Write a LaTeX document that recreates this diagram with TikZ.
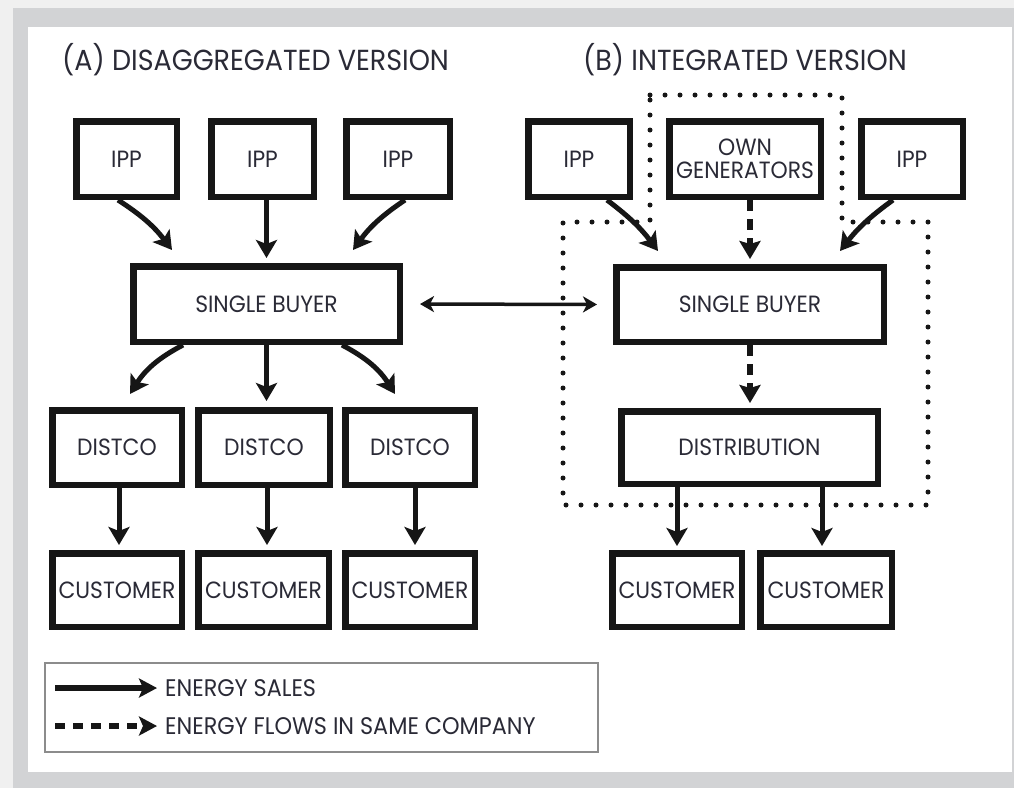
\documentclass[tikz,border=0pt]{standalone}
\usepackage{fontspec}
\setmainfont{Poppins}[FakeStretch=0.93]
\usetikzlibrary{arrows.meta,calc}
\definecolor{txt}{HTML}{2A2A36}
\definecolor{ink}{HTML}{161616}
\definecolor{frame}{HTML}{D2D3D5}
\definecolor{outerbg}{HTML}{F0F0F0}
\definecolor{leggray}{HTML}{8C8C8C}
\begin{document}
\begin{tikzpicture}[x=1pt,y=-1pt,
  box/.style={draw=ink, line width=6.5pt, fill=white, inner sep=0pt, align=center, text=txt, font=\fontsize{23.5}{23}\selectfont},
  ttl/.style={text=txt, font=\fontsize{29}{30}\selectfont, anchor=west, inner sep=0pt},
  legtext/.style={text=txt, font=\fontsize{24}{23}\selectfont, anchor=west, inner sep=0pt},
  sale/.style={draw=ink, line width=5pt, -{Stealth[length=18pt,width=21pt,inset=4pt]}},
  flow/.style={draw=ink, line width=6pt, dash pattern=on 11pt off 8pt, -{Stealth[length=18pt,width=21pt,inset=3pt]}},
  dbl/.style={draw=ink, line width=3.5pt, {Stealth[length=14pt,width=16pt,inset=4pt]}-{Stealth[length=14pt,width=16pt,inset=4pt]}},
  dots/.style={draw=ink, line width=5pt, line cap=round, dash pattern=on 0pt off 15pt},
]
% background
\fill[outerbg] (0,0) rectangle (1014,788);
\fill[frame] (13,8) rectangle (1014,788);
\fill[white] (28,27) rectangle (1012,772);
\useasboundingbox (0,0) rectangle (1014,788);

% titles
\node[ttl] (ta) at (62,60) {(A) DISAGGREGATED VERSION};
\node[ttl] (tb) at (583,60) {(B) INTEGRATED VERSION};

% dotted company boundary
\draw[dots] (650,95) -- (842,95) -- (842,222) -- (928,222) -- (928,505) -- (563,505) -- (563,222) -- (650,222) -- cycle;

% (A) nodes
\node[box, minimum width=100.5pt, minimum height=75.5pt] (IPPa1) at (126.5,159) {IPP};
\node[box, minimum width=102.5pt, minimum height=75.5pt] (IPPa2) at (262.5,159) {IPP};
\node[box, minimum width=103.5pt, minimum height=75.5pt] (IPPa3) at (398,159) {IPP};
\node[box, minimum width=266.5pt, minimum height=75.5pt] (SBa) at (266.5,304) {SINGLE BUYER};
\node[box, minimum width=129.5pt, minimum height=74.5pt] (DC1) at (117,447.5) {DISTCO};
\node[box, minimum width=131.5pt, minimum height=74.5pt] (DC2) at (264,447.5) {DISTCO};
\node[box, minimum width=129.5pt, minimum height=74.5pt] (DC3) at (410,447.5) {DISTCO};
\node[box, minimum width=129.5pt, minimum height=73.5pt] (C1) at (117,590) {CUSTOMER};
\node[box, minimum width=130.5pt, minimum height=73.5pt] (C2) at (263.5,590) {CUSTOMER};
\node[box, minimum width=129.5pt, minimum height=73.5pt] (C3) at (410,590) {CUSTOMER};

% (B) nodes
\node[box, minimum width=101.5pt, minimum height=75.5pt] (IPPb1) at (579,159) {IPP};
\node[box, minimum width=151.5pt, minimum height=75.5pt] (OWN) at (745,159) {OWN\\GENERATORS};
\node[box, minimum width=101.5pt, minimum height=75.5pt] (IPPb2) at (912,159) {IPP};
\node[box, minimum width=267.5pt, minimum height=74.5pt] (SBb) at (750,304.5) {SINGLE BUYER};
\node[box, minimum width=256.5pt, minimum height=72.5pt] (DIST) at (749.5,447.5) {DISTRIBUTION};
\node[box, minimum width=129.5pt, minimum height=73.5pt] (CB1) at (677,590) {CUSTOMER};
\node[box, minimum width=131.5pt, minimum height=73.5pt] (CB2) at (826,590) {CUSTOMER};

% (A) connectors
\draw[sale] ([xshift=-8.5pt]IPPa1.south) to[bend left=10] ([xshift=-94.5pt,yshift=13pt]SBa.north);
\draw[sale] (SBa.north |- IPPa2.south) -- ([yshift=5pt]SBa.north);
\draw[sale] ([xshift=7pt]IPPa3.south) to[bend right=10] ([xshift=86.5pt,yshift=13pt]SBa.north);
\draw[sale] ([xshift=-83.5pt]SBa.south) to[bend right=15] ([xshift=13pt,yshift=13pt]DC1.north);
\draw[sale] (SBa.south) -- ($(SBa.south |- DC2.north)+(0,-6)$);
\draw[sale] ([xshift=75.5pt]SBa.south) to[bend left=15] ([xshift=-15pt,yshift=13pt]DC3.north);
\draw[sale] ([xshift=2pt]DC1.south) -- ([xshift=2pt,yshift=5pt]C1.north);
\draw[sale] ([xshift=3pt]DC2.south) -- ([xshift=3pt,yshift=5pt]DC2.south |- C2.north);
\draw[sale] ([xshift=5pt]DC3.south) -- ([xshift=5pt,yshift=5pt]C3.north);

% between single buyers
\draw[dbl, shorten <=17pt, shorten >=16pt] (SBa.east) -- (SBb.west);

% (B) connectors
\draw[sale] ([xshift=28pt]IPPb1.south) to[bend left=8] ([xshift=-92pt,yshift=13pt]SBb.north);
\draw[sale] ([xshift=-19pt]IPPb2.south) to[bend right=8] ([xshift=90pt,yshift=13pt]SBb.north);
\draw[flow] (SBb.north |- OWN.south) -- ([yshift=5pt]SBb.north);
\draw[flow] (SBb.south) -- ($(SBb.south |- DIST.north)+(0,-5)$);
\draw[sale] (CB1.north |- DIST.south) -- ($(CB1.north)+(0,-4)$);
\draw[sale] ($(CB2.north |- DIST.south)+(-4,0)$) -- ($(CB2.north)+(-4,-4)$);

% legend
\node[draw=leggray, line width=1.5pt, minimum width=553pt, minimum height=89pt, inner sep=0pt] (leg) at (321.5,707.5) {};
\coordinate (s1) at (55,688);
\coordinate (e1) at (157,688);
\coordinate (s2) at (55,726);
\coordinate (e2) at (157,726);
\draw[sale, line width=6pt, -{Stealth[length=18pt,width=19pt,inset=4pt]}] (s1) -- (e1);
\draw[flow, dash pattern=on 10pt off 8pt, -{Stealth[length=18pt,width=19pt,inset=4pt]}] (s2) -- (e2);
\node[legtext] (l1) at (165,688) {ENERGY SALES};
\node[legtext] (l2) at (165,726) {ENERGY FLOWS IN SAME COMPANY};
\end{tikzpicture}
\end{document}
